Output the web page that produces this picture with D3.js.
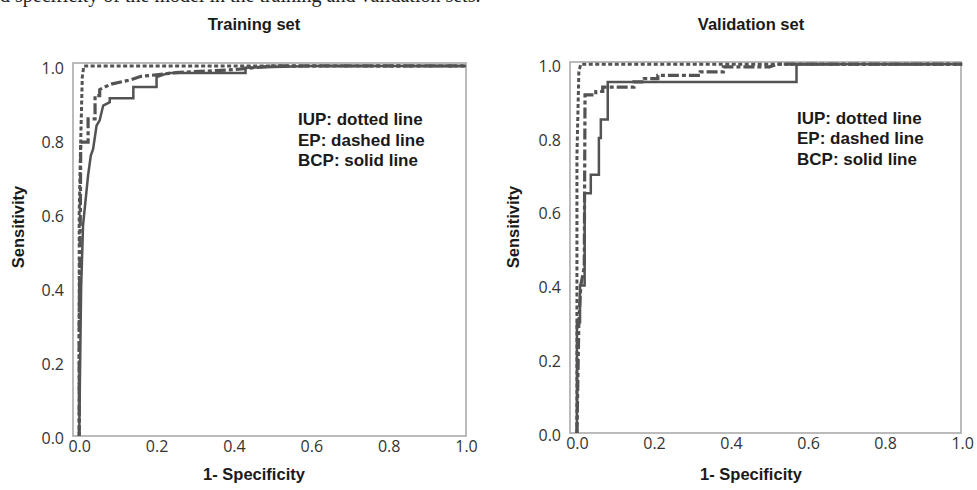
<!DOCTYPE html>
<html>
<head>
<meta charset="utf-8">
<script src="https://cdn.jsdelivr.net/npm/d3@7/dist/d3.min.js"></script>
<style>
  body { margin: 0; background: #fff; }
  svg { display: block; }
</style>
</head>
<body>
<svg id="chart" width="977" height="490"></svg>
<script>
// ROC curves: [1 - specificity, sensitivity]
const trainIUP = [[0, 0], [0, 0.6], [0.004, 0.8], [0.008, 0.97], [0.012, 1], [1, 1]];
const trainEP = [[0, 0], [0, 0.3], [0.003, 0.6], [0.004, 0.794], [0.023, 0.794], [0.023, 0.857],
  [0.041, 0.857], [0.041, 0.92], [0.053, 0.92], [0.053, 0.936], [0.066, 0.943], [0.083, 0.951],
  [0.114, 0.958], [0.135, 0.963], [0.16, 0.972], [0.2, 0.976], [0.25, 0.982], [0.4, 0.99],
  [0.5, 1], [1, 1]];
const trainBCP = [[0, 0], [0.005, 0.4], [0.01, 0.57], [0.023, 0.704], [0.03, 0.758],
  [0.036, 0.776], [0.045, 0.839], [0.053, 0.853], [0.062, 0.893], [0.079, 0.902],
  [0.079, 0.913], [0.14, 0.913], [0.14, 0.943], [0.2, 0.943], [0.2, 0.97], [0.23, 0.981],
  [0.43, 0.981], [0.43, 0.995], [0.6, 1], [1, 1]];

const validIUP = [[0, 0], [0, 0.75], [0.005, 0.98], [0.01, 1], [1, 1]];
const validEP = [[0, 0], [0.005, 0.3], [0.01, 0.4], [0.019, 0.45], [0.021, 0.917],
  [0.049, 0.917], [0.049, 0.926], [0.067, 0.926], [0.067, 0.938], [0.148, 0.938],
  [0.148, 0.952], [0.175, 0.952], [0.175, 0.961], [0.21, 0.961], [0.21, 0.97],
  [0.32, 0.97], [0.32, 0.979], [0.38, 0.979], [0.38, 0.993], [0.5, 0.993], [0.52, 1], [1, 1]];
const validBCP = [[0, 0], [0, 0.3], [0.008, 0.3], [0.008, 0.4], [0.02, 0.4], [0.02, 0.65],
  [0.036, 0.65], [0.036, 0.7], [0.057, 0.7], [0.057, 0.8], [0.062, 0.8], [0.062, 0.85],
  [0.08, 0.85], [0.08, 0.952], [0.57, 0.952], [0.57, 1], [1, 1]];

const xTicks = [0, 0.2, 0.4, 0.6, 0.8, 1.0];
const yTicks = [0, 0.2, 0.4, 0.6, 0.8, 1.0];
const panelTitles = ['Training set', 'Validation set'];
const legendLines = ['IUP: dotted line', 'EP: dashed line', 'BCP: solid line'];
const xTitle = '1- Specificity';
const yTitle = 'Sensitivity';
const captionTail = 'd specificity of the model in the training and validation sets.';

const svg = d3.select('#chart');
const lineColor = '#535353';
const styles = {
  iup: {width: 3, dash: '4,2.5'},
  ep:  {width: 3.2, dash: '11,3,4,3'},
  bcp: {width: 2.5, dash: null}
};

// partial caption line cut by the top edge
svg.append('text')
    .attr('x', 0).attr('y', 2)
    .style('font-family', '"Liberation Serif", serif')
    .style('font-size', '20px')
    .attr('fill', '#222')
    .text(captionTail);

function drawPanel(cfg) {
  const x = d3.scaleLinear().domain(cfg.xDomain).range([cfg.left, cfg.right]);
  const y = d3.scaleLinear().domain(cfg.yDomain).range([cfg.bottom, cfg.top]);
  const g = svg.append('g');

  g.append('rect')
      .attr('x', cfg.left).attr('y', cfg.top)
      .attr('width', cfg.right - cfg.left)
      .attr('height', cfg.bottom - cfg.top)
      .attr('fill', 'none')
      .attr('stroke', '#aaa')
      .attr('stroke-width', 1.6);

  const xAxis = g.append('g')
      .attr('transform', 'translate(0,' + cfg.bottom + ')')
      .call(d3.axisBottom(x).tickValues(xTicks).tickFormat(d3.format('.1f')).tickSize(0).tickPadding(5));
  const yAxis = g.append('g')
      .attr('transform', 'translate(' + cfg.left + ',0)')
      .call(d3.axisLeft(y).tickValues(yTicks).tickFormat(d3.format('.1f')).tickSize(0).tickPadding(9));
  [xAxis, yAxis].forEach(function(a) {
    a.select('.domain').remove();
    a.selectAll('text')
        .style('font-family', '"Open Sans", sans-serif')
        .style('font-size', '16px')
        .attr('fill', '#333');
  });
  yAxis.selectAll('text').attr('dy', '0.45em');

  const line = d3.line()
      .x(function(d) { return x(d[0]); })
      .y(function(d) { return y(d[1]); });

  cfg.series.forEach(function(s) {
    g.append('path')
        .datum(s.data)
        .attr('d', line)
        .attr('fill', 'none')
        .attr('stroke', lineColor)
        .attr('stroke-width', s.style.width)
        .attr('stroke-dasharray', s.style.dash)
        .attr('stroke-linejoin', 'miter');
  });

  const bold = function(sel, size) {
    return sel.style('font-family', '"Liberation Sans", Arial, sans-serif')
        .style('font-weight', 'bold')
        .style('font-size', (size || 16.5) + 'px')
        .attr('fill', '#1a1a1a');
  };

  bold(g.append('text'))
      .attr('x', cfg.titleX).attr('y', 30)
      .attr('text-anchor', 'middle')
      .text(cfg.title);

  bold(g.append('text'))
      .attr('x', cfg.titleX).attr('y', 480)
      .attr('text-anchor', 'middle')
      .text(xTitle);

  bold(g.append('text'))
      .attr('transform', 'translate(' + cfg.yTitleX + ',' + 227 + ') rotate(-90)')
      .attr('text-anchor', 'middle')
      .text(yTitle);

  legendLines.forEach(function(t, i) {
    bold(g.append('text'), 17)
        .attr('x', cfg.legendX)
        .attr('y', cfg.legendY + i * 20.7)
        .text(t);
  });
}

drawPanel({
  left: 73, right: 466, top: 63, bottom: 436,
  xDomain: [-0.016, 1.0], yDomain: [0, 1.008],
  title: panelTitles[0], titleX: 254, yTitleX: 24,
  legendX: 298, legendY: 125,
  series: [
    {data: trainIUP, style: styles.iup},
    {data: trainEP, style: styles.ep},
    {data: trainBCP, style: styles.bcp}
  ]
});

drawPanel({
  left: 570, right: 961, top: 62, bottom: 433,
  xDomain: [-0.018, 0.997], yDomain: [0, 1.006],
  title: panelTitles[1], titleX: 751, yTitleX: 519,
  legendX: 797, legendY: 123.5,
  series: [
    {data: validIUP, style: styles.iup},
    {data: validEP, style: styles.ep},
    {data: validBCP, style: styles.bcp}
  ]
});
</script>
</body>
</html>
